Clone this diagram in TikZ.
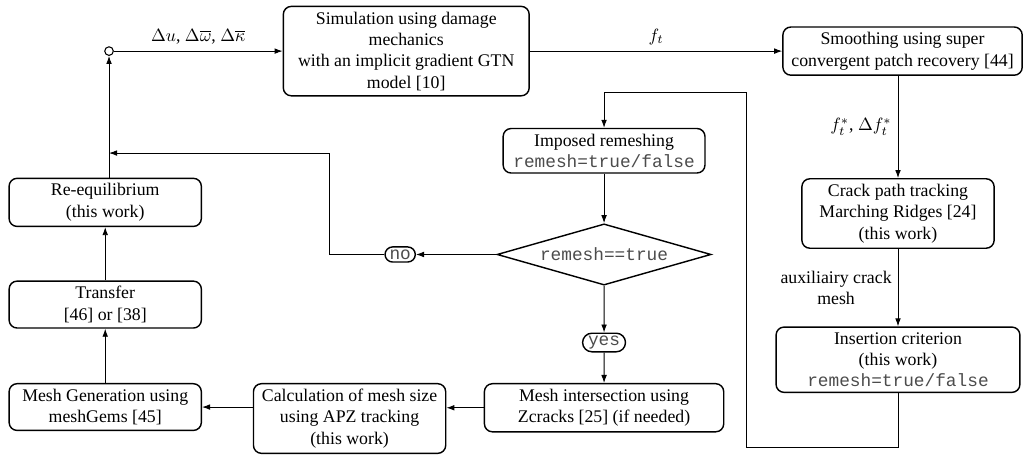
\documentclass[tikz,border=0pt]{standalone}
\usepackage{fontspec}
\setmainfont{Liberation Serif}
\setmonofont{Liberation Mono}
\usepackage{tikz}
\usetikzlibrary{arrows.meta,positioning,calc,shapes.geometric,shapes.misc}
\usepackage{amsmath}
\newcommand{\flag}[1]{{\ttfamily\color{black!70}#1}}

\begin{document}
\begin{tikzpicture}[x=1cm,y=1cm,>={Latex[length=4.5pt,width=3.2pt]},
  procbox/.style={draw,rounded corners=4.5pt,line width=0.8pt,align=center,minimum width=3.8cm,inner sep=3pt},
  decide/.style={draw,diamond,line width=0.8pt,minimum width=4.23cm,minimum height=1.21cm,inner sep=0pt,aspect=3.5},
  answer/.style={draw,rounded rectangle,line width=0.8pt,inner sep=1.5pt},
  flow/.style={->,line width=0.5pt}]
\useasboundingbox (0,0) rectangle (20.28,-8.976);
% solver and crack tracking
\node[procbox,minimum width=4.86cm] (sim) at (8.03,-1.01) {Simulation using damage\\mechanics\\with an implicit gradient GTN\\model [10]};
\node[procbox,minimum width=4.73cm] (smooth) at (17.84,-1.01) {Smoothing using super\\convergent patch recovery [44]};
\node[procbox] (crack) at (17.75,-4.22) {Crack path tracking\\Marching Ridges [24]\\(this work)};
\node[procbox,minimum width=4.82cm] (insert) at (17.75,-7.11) {Insertion criterion\\(this work)\\\flag{remesh=true/false}};
% remeshing decision
\node[procbox,minimum width=3.99cm] (imposed) at (11.94,-2.98) {Imposed remeshing\\\flag{remesh=true/false}};
\node[decide] (check) at (11.94,-5.03) {\flag{remesh==true}};
\node[answer] (no) at (7.91,-5.03) {\flag{no}};
\node[answer] (yes) at (11.94,-6.77) {\flag{yes}};
% new mesh
\node[procbox,minimum width=4.73cm,anchor=north] (inter) at (11.94,-7.57) {Mesh intersection using\\Zcracks [25] (if needed)};
\node[procbox,anchor=north] (size) at (6.91,-7.57) {Calculation of mesh size\\using APZ tracking\\(this work)};
\node[procbox,anchor=north] (gen) at (2.08,-7.57) {Mesh Generation using\\meshGems [45]};
\node[procbox] (transfer) at (2.08,-6.02) {Transfer\\{[46]} or [38]};
\node[procbox] (reeq) at (2.08,-4.00) {Re-equilibrium\\(this work)};
\node[draw,circle,inner sep=0pt,minimum size=0.17cm,line width=0.6pt] (junc) at (2.155,-1.01) {};
\coordinate (rb) at (14.75,-8.84);
\coordinate (rt) at (14.75,-1.82);
\coordinate (nt) at (6.52,-3.025);
% connectors
\draw[flow] (junc) -- node[above] {$\Delta u$, $\Delta\overline{\omega}$, $\Delta\overline{\kappa}$} (sim);
\draw[flow] (sim) -- node[above] {$f_t$} (smooth);
\draw[flow] (smooth.south -| crack.north) -- node[left] {$f_t^*$, $\Delta f_t^*$} (crack.north);
\draw[flow] (crack) -- node[left,align=center] {auxiliairy crack\\mesh} (insert);
\draw[flow] (insert.south) |- (rb) -- (rt) -| (imposed.north);
\draw[flow] (imposed) -- (check);
\draw[flow] (check) -- (no);
\draw[flow] (no.west) -| (nt) -- (nt -| junc);
\draw[flow] (check) -- (yes);
\draw[flow] (yes) -- (inter);
\draw[flow] (inter.west) -- (inter.west -| size.east);
\draw[flow] (size.west |- gen.east) -- (gen.east);
\draw[flow] (gen) -- (transfer);
\draw[flow] (transfer) -- (reeq);
\draw[flow] (reeq.north -| junc) -- (junc);
\end{tikzpicture}
\end{document}
